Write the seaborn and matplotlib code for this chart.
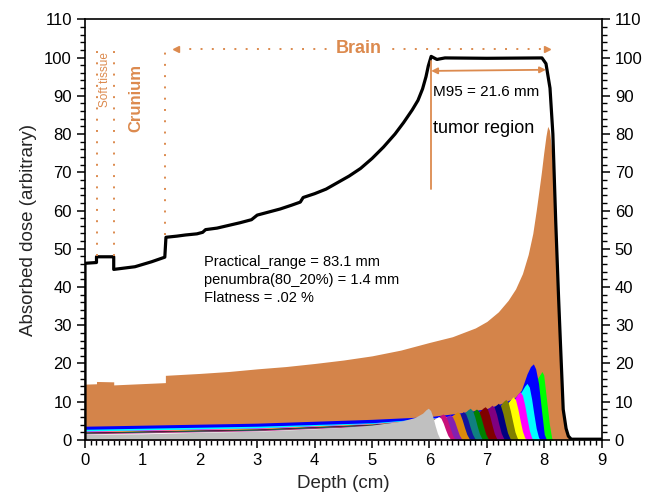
import matplotlib
matplotlib.use("Agg")
import matplotlib.pyplot as plt
import seaborn as sns
import pandas as pd
from matplotlib.ticker import MultipleLocator

# ---------------- data ----------------
# total dose (black curve)
total_x = [0, 0, 0.2, 0.2, 0.5, 0.5, 0.87, 1.16, 1.39, 1.41, 1.6, 1.75, 1.95, 2.05, 2.1, 2.3, 2.5,
           2.7, 2.9, 3.0, 3.2, 3.4, 3.6, 3.75, 3.8, 4.0, 4.2, 4.4, 4.6, 4.8, 5.0, 5.2, 5.4, 5.55,
           5.7, 5.8, 5.88, 5.94, 5.98, 6.03, 6.13, 6.27, 7.0, 7.96, 8.03, 8.1, 8.15, 8.2, 8.25,
           8.28, 8.33, 8.38, 8.42, 8.47, 9.0]
total_y = [0, 46.2, 46.4, 47.9, 47.9, 44.6, 45.3, 46.6, 47.8, 53.0, 53.3, 53.6, 53.9, 54.3, 55.0, 55.4, 56.1,
           56.8, 57.6, 58.8, 59.6, 60.4, 61.4, 62.2, 63.4, 64.4, 65.6, 67.3, 69.0, 71.0, 73.6, 76.6, 80.0, 83.0,
           86.3, 88.8, 91.8, 95.0, 97.8, 100.3, 99.5, 99.9, 99.8, 99.9, 98.4, 92.0, 80.0, 57.0, 37.0,
           26.0, 8.0, 3.0, 1.0, 0.2, 0.2]

# deepest (largest) peak, orange
orange_x = [0, 0.2, 0.2, 0.5, 0.5, 1.1, 1.4, 1.4, 2.0, 2.5, 3.0, 3.5, 4.0, 4.5, 5.0, 5.5, 6.0,
            6.4, 6.8, 7.0, 7.2, 7.37, 7.5, 7.62, 7.72, 7.8, 7.86, 7.91, 7.95, 7.99, 8.03, 8.06,
            8.09, 8.12, 8.16, 8.2, 8.24, 8.28, 8.32, 8.36, 8.4, 8.45]
orange_y = [14.6, 14.7, 15.3, 15.2, 14.4, 14.8, 15.0, 16.9, 17.4, 17.9, 18.6, 19.2, 20.0, 20.9, 22.0, 23.5, 25.5,
            27.0, 29.3, 31.0, 33.5, 36.5, 39.5, 43.5, 48.5, 54.0, 60.0, 65.5, 70.0, 75.0, 79.5, 82.0,
            81.0, 77.0, 68.0, 56.0, 40.0, 24.0, 10.0, 3.5, 1.0, 0]

lime_x = [0, 3, 5, 6, 7, 7.5, 7.7, 7.82, 7.9, 7.96, 7.99, 8.04, 8.09, 8.13, 8.16]
lime_y = [3.2, 4.0, 5.0, 5.8, 7.8, 10.5, 12.5, 14.5, 16.5, 17.9, 17.0, 10.5, 4.0, 0.5, 0]

blue_x = [0, 3, 5, 6, 6.5, 7.0, 7.3, 7.5, 7.6, 7.7, 7.76, 7.81, 7.85, 7.9, 7.95, 8.0, 8.04]
blue_y = [3.6, 4.4, 5.4, 6.1, 7.0, 8.2, 9.8, 11.2, 13.0, 17.3, 19.2, 19.9, 18.6, 14.8, 8.0, 1.5, 0]

cyan_x = [0, 3, 5, 6, 7.0, 7.35, 7.5, 7.6, 7.66, 7.70, 7.74, 7.78, 7.82, 7.86, 7.90, 7.93]
cyan_y = [2.8, 3.6, 4.5, 5.7, 7.0, 9.5, 10.9, 12.6, 14.1, 14.8, 13.8, 10.7, 6.7, 3.0, 0.7, 0]

magenta_x = [0, 3, 5, 6, 7.23, 7.38, 7.48, 7.54, 7.58, 7.62, 7.66, 7.70, 7.74, 7.78, 7.81]
magenta_y = [2.35, 3.15, 4.3, 5.5, 8.3, 9.3, 10.7, 12.0, 12.6, 11.7, 9.1, 5.7, 2.5, 0.6, 0]

yellow_x = [0, 3, 5, 6, 7.11, 7.26, 7.36, 7.42, 7.46, 7.50, 7.54, 7.58, 7.62, 7.66, 7.69]
yellow_y = [2.2, 3.0, 4.2, 5.4, 7.5, 8.4, 9.6, 10.7, 11.3, 10.5, 8.1, 5.1, 2.3, 0.6, 0]

olive_x = [0, 3, 5, 6, 6.98, 7.13, 7.23, 7.29, 7.33, 7.37, 7.41, 7.45, 7.49, 7.53, 7.56]
olive_y = [2.1, 2.9, 4.15, 5.35, 7.0, 7.8, 9.0, 10.1, 10.6, 9.9, 7.6, 4.8, 2.1, 0.5, 0]

navy_x = [0, 3, 5, 6, 6.85, 7.0, 7.1, 7.16, 7.2, 7.24, 7.28, 7.32, 7.36, 7.4, 7.43]
navy_y = [2.05, 2.85, 4.1, 5.3, 6.3, 7.1, 8.2, 9.1, 9.6, 8.9, 6.9, 4.3, 1.9, 0.5, 0]

purple_x = [0, 3, 5, 6, 6.74, 6.89, 6.99, 7.05, 7.09, 7.13, 7.17, 7.21, 7.25, 7.29, 7.32]
purple_y = [2.0, 2.8, 4.05, 5.25, 6.0, 6.7, 7.7, 8.6, 9.1, 8.5, 6.6, 4.1, 1.8, 0.5, 0]

maroon_x = [0, 3, 5, 6, 6.62, 6.77, 6.87, 6.93, 6.97, 7.01, 7.05, 7.09, 7.13, 7.17, 7.2]
maroon_y = [1.95, 2.75, 4.0, 5.2, 5.7, 6.4, 7.4, 8.3, 8.7, 8.1, 6.3, 3.9, 1.7, 0.4, 0]

green_x = [0, 3, 5, 6, 6.47, 6.62, 6.72, 6.78, 6.82, 6.86, 6.9, 6.94, 6.98, 7.02, 7.05]
green_y = [1.9, 2.7, 3.95, 5.1, 5.4, 6.0, 6.9, 7.7, 8.1, 7.5, 5.8, 3.6, 1.6, 0.4, 0]

teal_x = [0, 3, 5, 6, 6.36, 6.51, 6.61, 6.67, 6.71, 6.75, 6.79, 6.83, 6.87, 6.91, 6.94]
teal_y = [1.85, 2.65, 3.9, 5.0, 5.5, 6.1, 7.1, 7.9, 8.3, 7.7, 6.0, 3.7, 1.7, 0.4, 0]

darkblue_x = [0, 3, 5, 6, 6.24, 6.39, 6.49, 6.55, 6.59, 6.63, 6.67, 6.71, 6.75, 6.79, 6.82]
darkblue_y = [1.8, 2.6, 3.85, 4.8, 5.0, 5.5, 6.3, 7.0, 7.4, 6.9, 5.3, 3.3, 1.5, 0.4, 0]

gold_x = [0, 3, 5, 6, 6.14, 6.29, 6.39, 6.45, 6.49, 6.53, 6.57, 6.61, 6.65, 6.69, 6.72]
gold_y = [1.75, 2.55, 3.8, 4.75, 5.0, 5.5, 6.3, 7.0, 7.4, 6.9, 5.3, 3.3, 1.5, 0.4, 0]

violet_x = [0, 3, 5, 6, 6.16, 6.26, 6.32, 6.36, 6.40, 6.44, 6.48, 6.52, 6.56, 6.59]
violet_y = [1.7, 2.5, 3.75, 4.6, 4.9, 5.6, 6.3, 6.6, 6.1, 4.8, 3.0, 1.3, 0.3, 0]

crimson_x = [0, 3, 5, 6, 6.14, 6.2, 6.24, 6.28, 6.32, 6.36, 6.40, 6.44, 6.47]
crimson_y = [1.65, 2.45, 3.7, 4.8, 5.8, 6.5, 6.8, 6.3, 4.9, 3.1, 1.4, 0.3, 0]

white_x = [0, 3, 5, 6, 6.06, 6.12, 6.16, 6.20, 6.24, 6.28, 6.32, 6.36, 6.39]
white_y = [1.6, 2.4, 3.6, 4.6, 5.2, 5.8, 6.1, 5.7, 4.4, 2.7, 1.2, 0.3, 0]

gray_x = [0, 1, 2, 3, 4, 4.5, 5, 5.5, 5.75, 5.88, 5.94, 5.98, 6.02, 6.06, 6.10, 6.14, 6.18, 6.21]
gray_y = [1.5, 1.6, 2.0, 2.3, 2.9, 3.3, 3.9, 4.9, 5.9, 7.0, 7.9, 8.3, 7.7, 6.0, 3.7, 1.7, 0.4, 0]

x_ticks = [0, 1, 2, 3, 4, 5, 6, 7, 8, 9]
y_ticks = [0, 10, 20, 30, 40, 50, 60, 70, 80, 90, 100, 110]

stats_lines = ["Practical_range = 83.1 mm", "penumbra(80_20%) = 1.4 mm", "Flatness = .02 %"]

# ---------------- styling ----------------
ORANGE_FILL = "#D4844A"
ORANGE_TXT = "#DC8A4E"

layers = [
    (orange_x, orange_y, ORANGE_FILL),
    (lime_x, lime_y, "#00FF00"),
    (blue_x, blue_y, "#0000FF"),
    (cyan_x, cyan_y, "#00FFFF"),
    (magenta_x, magenta_y, "#FF00FF"),
    (yellow_x, yellow_y, "#FFFF00"),
    (olive_x, olive_y, "#808000"),
    (navy_x, navy_y, "#000080"),
    (purple_x, purple_y, "#800080"),
    (maroon_x, maroon_y, "#800000"),
    (green_x, green_y, "#008000"),
    (teal_x, teal_y, "#108080"),
    (darkblue_x, darkblue_y, "#14149E"),
    (gold_x, gold_y, "#DD8A0C"),
    (violet_x, violet_y, "#8420B0"),
    (crimson_x, crimson_y, "#C8107A"),
    (white_x, white_y, "#FFFFFF"),
    (gray_x, gray_y, "#C0C0C0"),
]

sns.set_theme(style="ticks")
plt.rcParams['font.family'] = ['Liberation Sans', 'DejaVu Sans']

fig = plt.figure(figsize=(6.59, 5.01), dpi=100)
ax = fig.add_axes([0.129, 0.1218, 0.784, 0.8397])

for xs, ys, c in layers:
    ax.fill_between(xs, ys, 0, color=c, linewidth=0)

df = pd.DataFrame({"Depth": total_x, "Dose": total_y})
sns.lineplot(data=df, x="Depth", y="Dose", sort=False, estimator=None,
             color="black", linewidth=2.3, ax=ax, legend=False)

ax.set_xlim(0, 9)
ax.set_ylim(0, 110)
ax.set_xticks(x_ticks)
ax.set_yticks(y_ticks)
ax.xaxis.set_minor_locator(MultipleLocator(0.1))
ax.yaxis.set_minor_locator(MultipleLocator(2))
ax.tick_params(which="major", direction="out", length=6, width=1.1, labelsize=12,
               right=True, labelright=True, top=False, colors="black")
ax.tick_params(which="minor", direction="out", length=3.5, width=1.0,
               right=True, top=False, colors="black")
for s in ax.spines.values():
    s.set_visible(True)
    s.set_linewidth(1.2)
    s.set_color("black")

ax.set_xlabel("Depth (cm)", fontsize=13.5, labelpad=5)
ax.set_ylabel("Absorbed dose (arbitrary)", fontsize=13.5, labelpad=5)

# region annotations
dot = (0, (1, 4.8))
ax.plot([0.21, 0.21], [48.2, 102], color=ORANGE_TXT, lw=1.4, linestyle=dot)
ax.plot([0.505, 0.505], [48.2, 102], color=ORANGE_TXT, lw=1.4, linestyle=dot)
ax.plot([1.39, 1.39], [53.5, 101.5], color=ORANGE_TXT, lw=1.4, linestyle=dot)
ax.plot([1.62, 8.0], [102.3, 102.3], color=ORANGE_TXT, lw=1.4, linestyle=dot)
ax.plot([1.58], [102.3], marker="<", ms=5, color=ORANGE_TXT, lw=0)
ax.plot([8.04], [102.3], marker=">", ms=5, color=ORANGE_TXT, lw=0)
ax.text(4.77, 102.3, "Brain", fontsize=13, fontweight="bold", color=ORANGE_TXT,
        ha="center", va="center", bbox=dict(fc="white", ec="none", pad=2))
ax.text(0.34, 94.2, "Soft tissue", rotation=90, fontsize=8.5, color=ORANGE_TXT,
        ha="center", va="center")
ax.text(0.88, 89.5, "Crunium", rotation=90, fontsize=12, fontweight="bold",
        color=ORANGE_TXT, ha="center", va="center")

# tumor region annotations
ax.plot([6.02, 6.02], [65.5, 99.0], color=ORANGE_TXT, lw=1.3)
ax.annotate("", xy=(6.03, 96.5), xytext=(8.03, 96.8),
            arrowprops=dict(arrowstyle="<|-|>", color=ORANGE_TXT, lw=1.3,
                            mutation_scale=9, shrinkA=0, shrinkB=0))
ax.text(6.07, 91.0, "M95 = 21.6 mm", fontsize=11, color="black", ha="left", va="center")
ax.text(6.07, 81.5, "tumor region", fontsize=13, color="black", ha="left", va="center")

for i, line in enumerate(stats_lines):
    ax.text(2.08, 46.6 - 4.8 * i, line, fontsize=10.5, color="black", ha="left", va="center")

fig.savefig("out.png", dpi=100)
